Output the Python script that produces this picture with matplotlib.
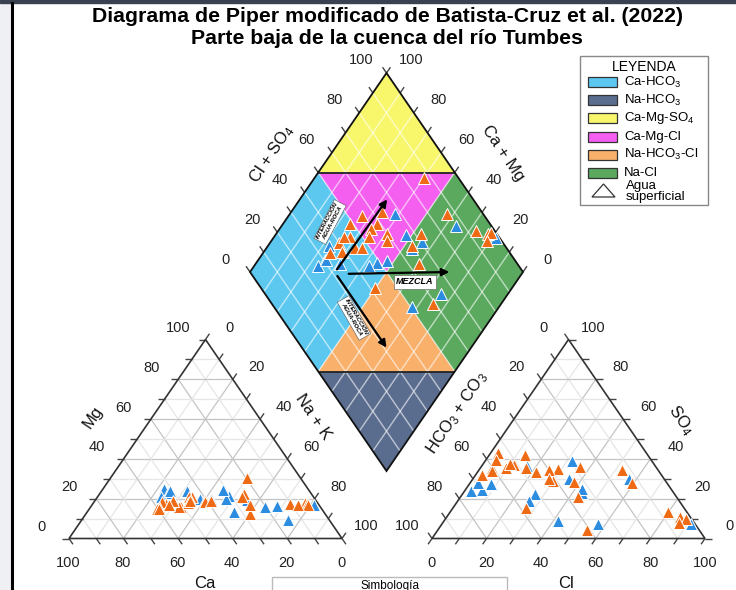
'''
Piper diagram (modified from Batista-Cruz et al. 2022)
lower Tumbes river basin
'''
import numpy as np
import matplotlib
matplotlib.use("Agg")
import matplotlib.pyplot as plt
from matplotlib.patches import Polygon, Rectangle

plt.rcParams['font.family'] = ['Liberation Sans', 'DejaVu Sans']
plt.rcParams['mathtext.fontset'] = 'custom'
plt.rcParams['mathtext.rm'] = 'Liberation Sans'
plt.rcParams['mathtext.it'] = 'Liberation Sans:italic'
plt.rcParams['mathtext.bf'] = 'Liberation Sans:bold'

####################################
# Data, meq % (orange and blue samples)
####################################
ca_o   = [40.7, 51.0, 55.6, 44.7, 57.0, 45.8, 41.2, 47.3, 38.5, 58.9, 51.8, 46.0, 60.4,
          52.4, 24.6, 26.3, 27.6, 25.3, 10.2, 4.6, 4.2, 4.1, 19.5, 7.8, 55.0, 59.6]
mg_o   = [19.1, 15.7, 17.4, 20.8, 18.2, 20.8, 18.2, 18.0, 19.0, 16.0, 15.7, 19.0, 15.0,
          19.0, 22.5, 20.8, 12.4, 16.9, 17.4, 17.9, 17.4, 16.9, 30.5, 17.0, 17.0, 14.9]
nak_o  = [40.2, 33.3, 27.0, 34.5, 24.8, 33.4, 40.6, 34.7, 42.5, 25.1, 32.5, 35.0, 24.6,
          28.6, 52.9, 52.9, 60.0, 57.8, 72.4, 77.5, 78.4, 79.0, 50.0, 75.2, 28.0, 25.5]
hco3_o = [12.8, 36.4, 44.9, 41.3, 51.3, 45.1, 40.1, 47.7, 42.0, 60.2, 55.3, 52.8, 65.7,
          61.2, 27.9, 34.0, 36.0, 13.2, 7.0, 3.5, 1.9, 5.5, 58.1, 41.0, 54.4, 56.9]
so4_o  = [28.0, 35.0, 42.0, 28.8, 37.1, 33.5, 34.3, 35.5, 30.0, 35.5, 35.5, 37.6, 31.7,
          33.8, 36.0, 28.3, 21.0, 34.3, 13.3, 11.0, 10.0, 8.0, 15.2, 4.3, 43.0, 39.3]
cl_o   = [59.2, 28.6, 13.1, 29.9, 11.6, 21.4, 25.6, 16.8, 28.0, 4.3, 9.2, 9.6, 2.6,
          5.0, 36.1, 37.7, 43.0, 52.5, 79.7, 85.5, 88.1, 86.5, 26.7, 54.7, 2.6, 3.8]

ca_b   = [1.8, 15.1, 15.6, 20.5, 25.4, 33.1, 30.7, 32.5, 31.2, 38.0, 42.1, 44.9, 52.7, 52.4, 55.8, 51.0]
mg_b   = [16.6, 9.4, 16.2, 15.7, 19.1, 13.2, 21.6, 20.0, 24.5, 20.0, 19.6, 24.0, 25.0, 23.0, 21.0, 24.0]
nak_b  = [81.6, 75.5, 68.2, 63.8, 55.5, 53.7, 47.7, 47.5, 44.3, 42.0, 38.3, 31.1, 22.3, 24.6, 23.2, 25.0]
hco3_b = [1.5, 35.7, 49.3, 13.1, 29.3, 34.8, 33.7, 47.0, 51.1, 55.0, 32.4, 65.0, 64.7, 69.5, 73.7, 69.0]
so4_b  = [7.2, 7.2, 8.8, 29.7, 38.8, 29.7, 23.0, 36.3, 22.2, 18.8, 25.0, 26.8, 27.2, 24.3, 23.8, 28.0]
cl_b   = [91.3, 57.1, 41.9, 57.2, 31.9, 35.5, 43.3, 16.7, 26.7, 26.2, 42.6, 8.2, 8.1, 6.2, 2.5, 3.0]

ticks = [0, 20, 40, 60, 80, 100]
facies = ['Ca-HCO$_3$', 'Na-HCO$_3$', 'Ca-Mg-SO$_4$', 'Ca-Mg-Cl', 'Na-HCO$_3$-Cl', 'Na-Cl']
facies_colors = ['#5cc8f0', '#5b6d8f', '#f8f76c', '#f45ff0', '#f8b06b', '#5aa95f']
col_o = '#ef6a14'
col_b = '#2b8ce0'

####################################
# Geometry (picture units, y down)
####################################
SIDE = 273.0
HGT = 199.0
BASE = 538.5
CAT_X0 = 69.0
AN_X0 = 432.0
DIA_X = 386.5
DIA_Y = 471.0
TL = 7.0        # tick length

def cat_xy(mg, nak):
    return CAT_X0 + SIDE*(nak + mg/2.), BASE - HGT*mg

def an_xy(so4, cl):
    return AN_X0 + SIDE*(cl + so4/2.), BASE - HGT*so4

def dia_xy(a, c):
    return DIA_X + SIDE/2.*(a - c), DIA_Y - HGT*(a + c)

def unit(dx, dy):
    n = np.hypot(dx, dy)
    return dx/n, dy/n

UP_R = unit(SIDE/2., -HGT)
UP_L = unit(-SIDE/2., -HGT)
DN_R = unit(SIDE/2., HGT)
DN_L = unit(-SIDE/2., HGT)

fig = plt.figure(figsize=(7.36, 5.90), dpi=100)
ax = fig.add_axes([0, 0, 1, 1])
ax.set_xlim(0, 736)
ax.set_ylim(590, 0)
ax.axis('off')

# screenshot frame
ax.add_patch(Rectangle((0, 0), 11, 590, color='#eef0f3', zorder=0))
ax.add_patch(Rectangle((0, 0), 736, 3, color='#3a4150', zorder=0))
ax.plot([11.5, 11.5], [3, 590], color='black', lw=2.2, zorder=1)

def seg(p, q, **kw):
    ax.plot([p[0], q[0]], [p[1], q[1]], solid_capstyle='butt', **kw)

def grid_style(k):
    if k % 2 == 0:
        return dict(color='#c4c4c4', lw=0.9, zorder=2)
    return dict(color='#e6e6e6', lw=0.9, zorder=2)

tick_kw = dict(color='#444444', lw=1.0, zorder=3)
lab_kw = dict(fontsize=10.5, ha='center', va='center', color='#222222')

# ---- cation triangle ----
for k in range(11):
    f = k/10.
    if 0 < k < 10:
        seg(cat_xy(f, 0), cat_xy(f, 1-f), **grid_style(k))
        seg(cat_xy(0, f), cat_xy(1-f, f), **grid_style(k))
        seg(cat_xy(1-f, 0), cat_xy(0, 1-f), **grid_style(k))
    p = cat_xy(f, 0)
    seg(p, (p[0]-TL, p[1]), **tick_kw)
    p = cat_xy(1-f, f)
    seg(p, (p[0]+TL*UP_R[0], p[1]+TL*UP_R[1]), **tick_kw)
    p = cat_xy(0, 1-f)
    seg(p, (p[0]+TL*DN_R[0], p[1]+TL*DN_R[1]), **tick_kw)
ax.add_patch(Polygon([cat_xy(0, 0), cat_xy(1, 0), cat_xy(0, 1)], closed=True,
                     fill=False, ec='#333333', lw=1.2, zorder=3))
for t in ticks:
    f = t/100.
    x, y = cat_xy(f, 0)
    ax.text(x-27, y-11.5, str(t), **lab_kw)
    x, y = cat_xy(1-f, f)
    ax.text(x+24, y-12, str(t), **lab_kw)
    x, y = cat_xy(0, 1-f)
    ax.text(x-1, y+24.5, str(t), **lab_kw)

# ---- anion triangle ----
for k in range(11):
    f = k/10.
    if 0 < k < 10:
        seg(an_xy(f, 0), an_xy(f, 1-f), **grid_style(k))
        seg(an_xy(0, f), an_xy(1-f, f), **grid_style(k))
        seg(an_xy(1-f, 0), an_xy(0, 1-f), **grid_style(k))
    p = an_xy(f, 1-f)
    seg(p, (p[0]+TL, p[1]), **tick_kw)
    p = an_xy(0, f)
    seg(p, (p[0]+TL*DN_L[0], p[1]+TL*DN_L[1]), **tick_kw)
    p = an_xy(1-f, 0)
    seg(p, (p[0]+TL*UP_L[0], p[1]+TL*UP_L[1]), **tick_kw)
ax.add_patch(Polygon([an_xy(0, 0), an_xy(0, 1), an_xy(1, 0)], closed=True,
                     fill=False, ec='#333333', lw=1.2, zorder=3))
for t in ticks:
    f = t/100.
    x, y = an_xy(f, 1-f)
    ax.text(x+25, y-12, str(t), **lab_kw)
    x, y = an_xy(1-f, 0)
    ax.text(x-25, y-12, str(t), **lab_kw)
    x, y = an_xy(0, f)
    ax.text(x, y+24.5, str(t), **lab_kw)

# ---- diamond ----
regions = [
    [(0, .5), (0, 1), (.5, 1), (.5, .5)],
    [(0, 0), (.5, 0), (0, .5)],
    [(.5, 1), (1, 1), (1, .5)],
    [(.5, .5), (.5, 1), (1, .5)],
    [(0, .5), (.5, .5), (.5, 0)],
    [(.5, 0), (1, 0), (1, .5), (.5, .5)],
]
for reg, colr in zip(regions, facies_colors):
    ax.add_patch(Polygon([dia_xy(a, c) for a, c in reg], closed=True,
                         fc=colr, ec='none', zorder=1))
for k in range(1, 10):
    f = k/10.
    seg(dia_xy(f, 0), dia_xy(f, 1), color='white', lw=1.0, alpha=0.6, zorder=2)
    seg(dia_xy(0, f), dia_xy(1, f), color='white', lw=1.0, alpha=0.6, zorder=2)
for k in range(11):
    f = k/10.
    p = dia_xy(f, 1)
    seg(p, (p[0]+TL*UP_L[0], p[1]+TL*UP_L[1]), **tick_kw)
    p = dia_xy(1, f)
    seg(p, (p[0]+TL*UP_R[0], p[1]+TL*UP_R[1]), **tick_kw)
seg(dia_xy(.5, 1), dia_xy(1, .5), color='#222222', lw=1.3, zorder=3)
seg(dia_xy(0, .5), dia_xy(.5, 0), color='#222222', lw=1.3, zorder=3)
ax.add_patch(Polygon([dia_xy(0, 0), dia_xy(1, 0), dia_xy(1, 1), dia_xy(0, 1)], closed=True,
                     fill=False, ec='#111111', lw=1.3, zorder=3))
for t in ticks:
    f = t/100.
    x, y = dia_xy(f, 1)
    ax.text(x-25, y-12.5, str(t), **lab_kw)
    x, y = dia_xy(1, f)
    ax.text(x+25, y-12.5, str(t), **lab_kw)

# ---- samples ----
mk = dict(marker='^', ms=8, mec='white', mew=0.7, ls='none', zorder=5)
for ca, mg, nak, hco3, so4, cl, colr in [
        (ca_b, mg_b, nak_b, hco3_b, so4_b, cl_b, col_b),
        (ca_o, mg_o, nak_o, hco3_o, so4_o, cl_o, col_o)]:
    mg = np.array(mg)/100.
    nak = np.array(nak)/100.
    so4 = np.array(so4)/100.
    cl = np.array(cl)/100.
    camg = (np.array(ca) + np.array(mg)*100.)/100.
    x, y = cat_xy(mg, nak)
    ax.plot(x, y, color=colr, **mk)
    x, y = an_xy(so4, cl)
    ax.plot(x, y, color=colr, **mk)
    x, y = dia_xy(so4 + cl, camg)
    ax.plot(x, y, color=colr, **mk)

# ---- process arrows ----
arr = dict(arrowstyle='-|>', color='black', lw=1.6, mutation_scale=11, shrinkA=0, shrinkB=0)
ax.annotate('', xy=dia_xy(.685, .68), xytext=dia_xy(.325, .688), arrowprops=arr, zorder=6)
ax.annotate('', xy=dia_xy(.73, .27), xytext=dia_xy(.357, .634), arrowprops=arr, zorder=6)
ax.annotate('', xy=dia_xy(.31, .31), xytext=dia_xy(.31, .67), arrowprops=arr, zorder=6)
box = dict(boxstyle='square,pad=0.25', fc='white', ec='#555555', lw=0.4)
ax.text(415, 282, 'MEZCLA', fontsize=6.5, fontweight='bold', style='italic',
        ha='center', va='center', bbox=box, zorder=7)
ax.text(330, 222, 'INTERACCIÓN\nAGUA-ROCA', fontsize=4.2, fontweight='bold', style='italic',
        ha='center', va='center', rotation=62, linespacing=1.1, bbox=box, zorder=7)
ax.text(354, 318, 'INTERACCIÓN\nAGUA-ROCA', fontsize=4.2, fontweight='bold', style='italic',
        ha='center', va='center', rotation=-60, linespacing=1.1, bbox=box, zorder=7)

# ---- axis titles ----
ttl = dict(fontsize=12, ha='center', va='center', color='#111111')
ax.text(93, 417, 'Mg', rotation=56, **ttl)
ax.text(313, 417, 'Na + K', rotation=-56, **ttl)
ax.text(205, 583, 'Ca', **ttl)
ax.text(457, 413, 'HCO$_3$ + CO$_3$', rotation=56, **ttl)
ax.text(681, 420, 'SO$_4$', rotation=-56, **ttl)
ax.text(566, 583, 'Cl', **ttl)
ax.text(272, 154, 'Cl + SO$_4$', rotation=56, **ttl)
ax.text(503, 153, 'Ca + Mg', rotation=-56, **ttl)

# ---- title ----
ax.text(387, 16, 'Diagrama de Piper modificado de Batista-Cruz et al. (2022)',
        fontsize=15.3, fontweight='bold', ha='center', va='center')
ax.text(387, 38.5, 'Parte baja de la cuenca del río Tumbes',
        fontsize=15.3, fontweight='bold', ha='center', va='center')

# ---- legend ----
ax.add_patch(Rectangle((580, 56), 128, 149, fc='white', ec='#888888', lw=1.0, zorder=4))
ax.text(644, 67, 'LEYENDA', fontsize=10, ha='center', va='center', zorder=5)
for i, (lab, colr) in enumerate(zip(facies, facies_colors)):
    yc = 82 + i*18.2
    ax.add_patch(Rectangle((588, yc-5), 29, 10, fc=colr, ec='#333333', lw=0.9, zorder=5))
    ax.text(624, yc, lab, fontsize=9.5, ha='left', va='center', zorder=5)
ax.add_patch(Polygon([(592, 197), (615, 197), (603.5, 184)], closed=True,
                     fc='white', ec='#333333', lw=0.9, zorder=5))
ax.text(626, 186, 'Agua', fontsize=9.5, ha='left', va='center', zorder=5)
ax.text(626, 197, 'superficial', fontsize=9.5, ha='left', va='center', zorder=5)

# ---- bottom box ----
ax.add_patch(Rectangle((272, 577), 235, 25, fill=False, ec='#bbbbbb', lw=1.0, zorder=4))
ax.text(390, 579.5, 'Simbología', fontsize=8.5, ha='center', va='top', zorder=5)

fig.savefig('out.png', dpi=100)
plt.close()
